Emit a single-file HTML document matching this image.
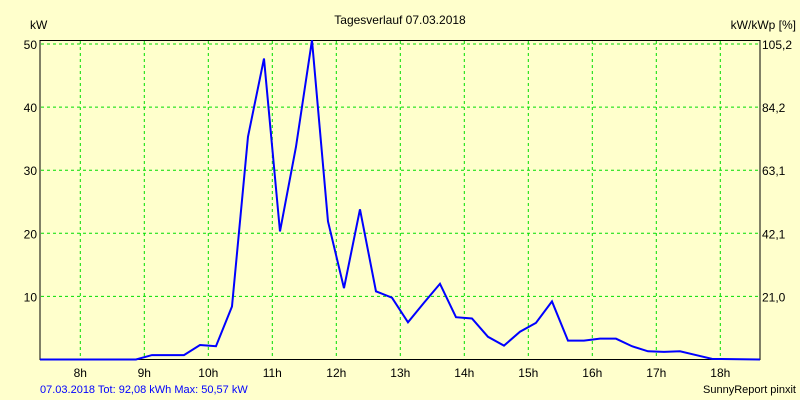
<!DOCTYPE html>
<html><head><meta charset="utf-8"><style>
body{margin:0;background:#ffffcc;}
svg{display:block;font-family:"Liberation Sans",Arial,sans-serif;}
</style></head><body>
<svg id="chart" width="800" height="400">
<rect x="0" y="0" width="800" height="400" fill="#ffffcc"/>
<text x="400" y="24" font-size="12" text-anchor="middle" fill="#000">Tagesverlauf 07.03.2018</text>
<text x="30" y="29" font-size="12" fill="#000">kW</text>
<text x="796" y="29" font-size="12" text-anchor="end" fill="#000">kW/kWp [%]</text>
<g id="grid"></g>
<g id="labels"></g>
<rect x="40" y="40.5" width="720" height="319" fill="none" stroke="#000" stroke-width="1"/>
<polyline id="line" fill="none" stroke="#0000ff" stroke-width="2"/>
<text x="40" y="393" font-size="11" fill="#0000ff">07.03.2018 Tot: 92,08 kWh Max: 50,57 kW</text>
<text x="796" y="393" font-size="11" text-anchor="end" fill="#000">SunnyReport pinxit</text>
</svg>
<script>
const hourTicks=[8,9,10,11,12,13,14,15,16,17,18];
const leftTicks=[10,20,30,40,50];
const rightTickLabels=["21,0","42,1","63,1","84,2","105,2"];
const times=[7.37,8.87,9.12,9.37,9.62,9.87,10.0,10.12,10.37,10.62,10.87,11.12,11.37,11.62,11.87,12.12,12.37,12.62,12.87,13.12,13.37,13.62,13.87,14.12,14.37,14.62,14.87,15.12,15.37,15.62,15.87,16.12,16.37,16.62,16.87,17.12,17.37,17.62,17.87,18.62];
const power=[0,0,0.7,0.7,0.7,2.3,2.2,2.1,8.4,35.3,47.7,20.3,33.7,50.6,21.9,11.3,23.8,10.8,9.8,5.9,9.0,12.0,6.7,6.5,3.6,2.2,4.4,5.8,9.2,3.0,3.0,3.3,3.3,2.1,1.3,1.2,1.3,0.7,0.1,0];
const X=h=>272.3+(h-11)*64;
const Y=v=>359.5-v*6.31;
const ns="http://www.w3.org/2000/svg";
const grid=document.getElementById('grid'),labels=document.getElementById('labels');
hourTicks.forEach(h=>{
  const l=document.createElementNS(ns,'line');
  l.setAttribute('x1',X(h));l.setAttribute('x2',X(h));l.setAttribute('y1',41);l.setAttribute('y2',359);
  l.setAttribute('stroke','#00dd00');l.setAttribute('stroke-dasharray','3,3');
  
  
  grid.appendChild(l);
  const t=document.createElementNS(ns,'text');
  t.setAttribute('x',X(h));t.setAttribute('y',377);t.setAttribute('font-size','12');t.setAttribute('text-anchor','middle');
  t.textContent=h+'h';
  
  
  labels.appendChild(t);
});
leftTicks.forEach((v,i)=>{
  const l=document.createElementNS(ns,'line');
  l.setAttribute('x1',41);l.setAttribute('x2',760);l.setAttribute('y1',Y(v));l.setAttribute('y2',Y(v));
  l.setAttribute('stroke','#00dd00');l.setAttribute('stroke-dasharray','3,3');
  
  
  grid.appendChild(l);
  const t=document.createElementNS(ns,'text');
  t.setAttribute('x',37);t.setAttribute('y',Y(v)+5);t.setAttribute('font-size','12');t.setAttribute('text-anchor','end');
  t.textContent=v;
  
  
  labels.appendChild(t);
  const r=document.createElementNS(ns,'text');
  r.setAttribute('x',762);r.setAttribute('y',Y(v)+5);r.setAttribute('font-size','12');
  r.textContent=rightTickLabels[i];
  
  
  labels.appendChild(r);
});
document.getElementById('line').setAttribute('points',times.map((t,i)=>X(t)+','+Y(power[i])).join(' '));
</script>
</body></html>
